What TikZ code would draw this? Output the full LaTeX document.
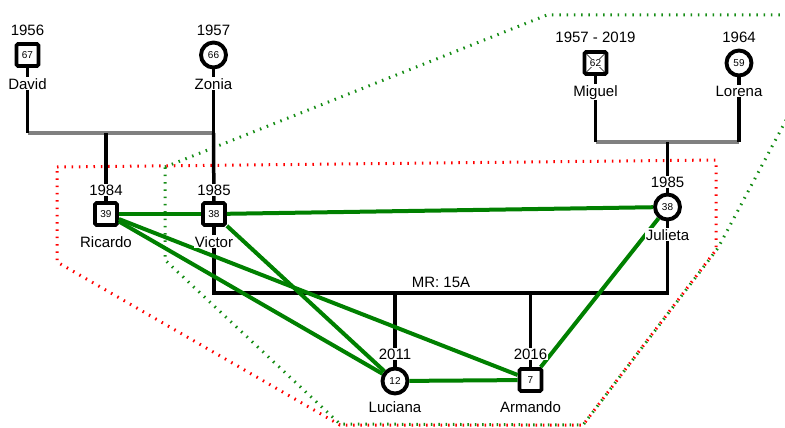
\documentclass[tikz,border=0pt]{standalone}
\usepackage{fontspec}
\setmainfont{Liberation Sans}
\definecolor{relgreen}{RGB}{0,128,0}
\definecolor{dotgreen}{RGB}{20,140,20}
\definecolor{bargray}{RGB}{128,128,128}
\begin{document}
\begin{tikzpicture}[x=1pt,y=-1pt,
  male/.style={draw=black,line width=3.8pt,rounded corners=1.5pt,minimum size=22pt,inner sep=0pt,fill=white,font=\fontsize{10}{12}\selectfont},
  female/.style={circle,draw=black,line width=3.9pt,minimum size=25pt,inner sep=0pt,fill=white,font=\fontsize{10}{12}\selectfont},
  lbl/.style={fill=white,inner sep=1pt,font=\fontsize{15}{18}\selectfont,anchor=base},
  kin/.style={draw=black,line width=3.5pt},
  bar/.style={draw=bargray,line width=4pt},
  rel/.style={draw=relgreen,line width=4pt},
  reddot/.style={draw=red,line width=3pt,dash pattern=on 1.5pt off 5.8pt},
  greendot/.style={draw=dotgreen,line width=3pt,dash pattern=on 1.5pt off 5.8pt}]
\useasboundingbox (0,0) rectangle (785,428);
\begin{scope}
\clip (0,0) rectangle (785,428);
\draw[greendot] (165,167) -- (547,15) -- (842,15) -- (718,248) -- (583,425) -- (340,424) -- (165,260) -- cycle;
\draw[reddot] (57,167) -- (716,160) -- (716,250) -- (583,425) -- (340,425) -- (57,262) -- cycle;
\end{scope}
% symbols
\node[male] (david) at (27.5,55) {67};
\node[female] (zonia) at (213.5,55) {66};
\node[male] (miguel) at (595.5,63) {};
\node[female] (lorena) at (739,63) {59};
\node[male] (ricardo) at (106,214) {39};
\node[male] (victor) at (214,214) {38};
\node[female] (julieta) at (667.5,207) {38};
\node[female] (luciana) at (395,381) {12};
\node[male] (armando) at (530.5,380) {7};
\draw[line width=0.5pt] (586.5,54) -- (604.5,72) (604.5,54) -- (586.5,72);
\node[fill=white,inner sep=0.6pt,font=\fontsize{10}{12}\selectfont] (miguelage) at (miguel) {62};
% coordinates
\coordinate (b1l) at (27.5,133);
\coordinate (b1r) at (213.5,133);
\coordinate (b1c) at (106,133);
\coordinate (b2l) at (595.5,142);
\coordinate (b2r) at (739,142);
\coordinate (b2c) at (667.5,142);
\coordinate (ml) at (214,293);
\coordinate (mr) at (667.5,293);
\coordinate (mc1) at (395,293);
\coordinate (mc2) at (530.5,293);
% bars
\draw[bar] (b1l) -- (b1r);
\draw[bar] (b2l) -- (b2r);
% kin lines
\draw[kin] (david) -- (b1l);
\draw[kin] (zonia) -- (b1r);
\draw[kin] (b1c) -- (ricardo);
\draw[kin] (b1r) -- (victor);
\draw[kin] (miguel) -- (b2l);
\draw[kin] (lorena) -- (b2r);
\draw[kin] (b2c) -- (julieta);
\draw[kin] (victor) -- (ml) -- (mr) -- (julieta);
\draw[kin] (mc1) -- (luciana);
\draw[kin] (mc2) -- (armando);
\node[anchor=base,font=\fontsize{15}{18}\selectfont,inner sep=0pt] (mr15) at (441,287) {MR: 15A};
% relationship lines
\draw[rel] (ricardo) -- (victor);
\draw[rel] (victor) -- (julieta);
\draw[rel] (ricardo) -- (luciana);
\draw[rel] (ricardo) -- (armando);
\draw[rel] (victor) -- (luciana);
\draw[rel] (luciana) -- (armando);
\draw[rel] (armando) -- (julieta);
% labels
\node[lbl] (y1) at (27.5,36) {1956};
\node[lbl] (n1) at (27.5,89) {David};
\node[lbl] (y2) at (213.5,36) {1957};
\node[lbl] (n2) at (213.5,89) {Zonia};
\node[lbl] (y3) at (595.5,43) {1957 - 2019};
\node[lbl] (n3) at (595.5,96) {Miguel};
\node[lbl] (y4) at (739,43) {1964};
\node[lbl] (n4) at (739,96) {Lorena};
\node[lbl] (y5) at (106,195) {1984};
\node[lbl] (n5) at (106,247) {Ricardo};
\node[lbl] (y6) at (214,195) {1985};
\node[lbl] (n6) at (214,247) {Victor};
\node[lbl] (y7) at (667.5,187) {1985};
\node[lbl] (n7) at (667.5,240) {Julieta};
\node[lbl] (y8) at (395,359) {2011};
\node[lbl] (n8) at (395,412) {Luciana};
\node[lbl] (y9) at (530.5,359) {2016};
\node[lbl] (n9) at (530.5,412) {Armando};
\end{tikzpicture}
\end{document}
